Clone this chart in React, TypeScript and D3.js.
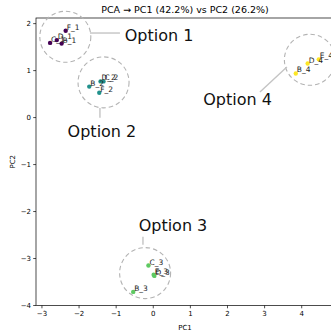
import React from 'react'
import * as d3 from 'd3'

// sample points on PC1 / PC2
const pointNames = ['B_1', 'C_1', 'D_1', 'F_1', 'B_2', 'C_2', 'D_2', 'F_2', 'B_3', 'C_3', 'D_3', 'E_3', 'B_4', 'D_4', 'E_4']
const pointPc1 = [-2.47, -2.78, -2.6, -2.36, -1.725, -1.34, -1.42, -1.455, -0.54, -0.13, 0.03, 0.01, 3.84, 4.16, 4.46]
const pointPc2 = [1.575, 1.59, 1.65, 1.85, 0.66, 0.77, 0.77, 0.53, -3.71, -3.15, -3.37, -3.345, 0.94, 1.15, 1.24]
const pointGroup = [0, 0, 0, 0, 1, 1, 1, 1, 2, 2, 2, 2, 3, 3, 3]

const groupColors = ['#440154', '#21918c', '#5ec962', '#fde725']

// annotation per option (data units)
const optionNames = ['Option 1', 'Option 2', 'Option 3', 'Option 4']
const ringPc1 = [-2.37, -1.34, -0.22, 4.22]
const ringPc2 = [1.72, 0.75, -3.31, 1.23]
const labelPc1 = [0.156, -1.383, 0.531, 2.27]
const labelPc2 = [1.76, -0.283, -2.283, 0.387]
const linkFrom = [[-1.706, 1.8], [-1.437, 0.206], [-0.278, -2.538], [2.875, 0.547]]
const linkTo = [[-0.898, 1.8], [-1.437, -0.006], [-0.278, -2.709], [3.6, 1.079]]

const xTicks = [-3, -2, -1, 0, 1, 2, 3, 4]
const yTicks = [-4, -3, -2, -1, 0, 1, 2]

const W = 331
const H = 334
const margin = { left: 36, right: -3, top: 18, bottom: 28.5 }
const font = 'DejaVu Sans, sans-serif'

const App = () => {
  const x = d3.scaleLinear().domain([-3.16, 4.87]).range([margin.left, W - margin.right])
  const y = d3.scaleLinear().domain([-4.0, 2.12]).range([H - margin.bottom, margin.top])
  const x0 = margin.left
  const x1 = W - margin.right
  const y0 = H - margin.bottom
  const y1 = margin.top
  const fmt = (v: number) => (v < 0 ? '\u2212' + Math.abs(v) : String(v))
  const ringR = 25.5

  return (
    <svg width={W} height={H} style={{ position: 'absolute', left: 0, top: 0 }} fontFamily={font}>
      <rect width={W} height={H} fill="white" />
      <text x={(x0 + x1) / 2} y={13} fontSize={9.5} textAnchor="middle">
        PCA → PC1 (42.2%) vs PC2 (26.2%)
      </text>

      {/* spines */}
      <rect x={x0} y={y1} width={x1 - x0} height={y0 - y1} fill="none" stroke="#000" strokeWidth={0.7} />

      {xTicks.map((t) => (
        <g key={'x' + t}>
          <line x1={x(t)} x2={x(t)} y1={y0} y2={y0 + 2.8} stroke="#000" strokeWidth={0.7} />
          <text x={x(t)} y={y0 + 10.5} fontSize={7} textAnchor="middle">{fmt(t)}</text>
        </g>
      ))}
      {yTicks.map((t) => (
        <g key={'y' + t}>
          <line x1={x0 - 2.8} x2={x0} y1={y(t)} y2={y(t)} stroke="#000" strokeWidth={0.7} />
          <text x={x0 - 5} y={y(t) + 2.5} fontSize={7} textAnchor="end">{fmt(t)}</text>
        </g>
      ))}
      <text x={(x0 + x1) / 2} y={330} fontSize={7} textAnchor="middle">PC1</text>
      <text transform={`translate(15,${(y0 + y1) / 2}) rotate(-90)`} fontSize={7} textAnchor="middle">PC2</text>

      {/* rings, links, option labels */}
      {optionNames.map((name, i) => (
        <g key={name}>
          <circle cx={x(ringPc1[i])} cy={y(ringPc2[i])} r={ringR} fill="none" stroke="#b3b3b3" strokeWidth={1.1} strokeDasharray="4.5 3" />
          <line x1={x(linkFrom[i][0])} y1={y(linkFrom[i][1])} x2={x(linkTo[i][0])} y2={y(linkTo[i][1])} stroke="#c4c4c4" strokeWidth={1.4} />
          <text x={x(labelPc1[i])} y={y(labelPc2[i])} dy="0.36em" fontSize={16} textAnchor="middle" fill="#111">{name}</text>
        </g>
      ))}

      {/* points */}
      {pointNames.map((n, i) => (
        <circle key={n} cx={x(pointPc1[i])} cy={y(pointPc2[i])} r={2.2} fill={groupColors[pointGroup[i]]} />
      ))}
      {pointNames.map((n, i) => (
        <text key={'t' + n} x={x(pointPc1[i]) + 1} y={y(pointPc2[i]) - 1} fontSize={7.5} fill="#222">{n}</text>
      ))}
    </svg>
  )
}

export default App
